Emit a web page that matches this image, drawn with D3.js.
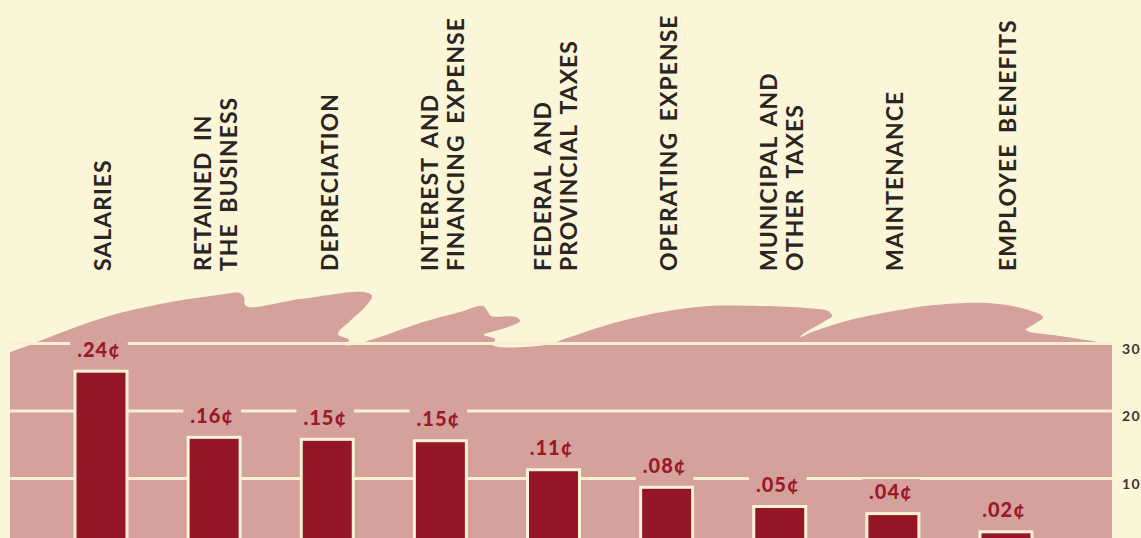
<!DOCTYPE html>
<html>
<head>
<meta charset="utf-8">
<script src="https://cdn.jsdelivr.net/npm/d3@7"></script>
<style>
  body { margin: 0; background: #fbf6d8; }
  svg { display: block; }
</style>
</head>
<body>
<div id="chart"></div>
<script>
var width = 1141;
var height = 538;

// categories, one entry per bar (lines of the rotated label)
var categories = [
  ["SALARIES"],
  ["RETAINED IN", "THE BUSINESS"],
  ["DEPRECIATION"],
  ["INTEREST AND", "FINANCING EXPENSE"],
  ["FEDERAL AND", "PROVINCIAL TAXES"],
  ["OPERATING EXPENSE"],
  ["MUNICIPAL AND", "OTHER TAXES"],
  ["MAINTENANCE"],
  ["EMPLOYEE BENEFITS"]
];
// bar heights
var barHeights = [25.9, 16.1, 15.8, 15.6, 11.3, 8.7, 5.85, 4.8, 2.1];
// printed value over each bar
var centLabels = [".24¢", ".16¢", ".15¢", ".15¢", ".11¢", ".08¢", ".05¢", ".04¢", ".02¢"];
var gridTicks = [10, 20, 30];

var bgColor = "#fbf6d8",
    pink = "#d5a19c",
    barColor = "#951626",
    labelRed = "#9b1a2a",
    inkColor = "#2a2523";

var svg = d3.select("#chart")
            .append("svg")
            .attr("width", width)
            .attr("height", height);

svg.append("rect")
   .attr("width", width)
   .attr("height", height)
   .attr("fill", bgColor);

var x = d3.scalePoint()
          .domain(d3.range(categories.length))
          .range([101, 1006]);

var y = d3.scaleLinear()
          .domain([0, 30])
          .range([546, 343.5]);

var panelLeft = 10, panelRight = 1112;

// torn paper edge on top of the pink panel (decoration only)
var edge = [
  [10,352],[27,346],[60,333],[109,316],[160,304],[218,295],[240,293],[244,297],[246,306],[300,299],[364,292],[372,296],[366,306],[350,321],[338,334],[349,340],[346,345],
  [352,345],[380,337],[420,323],[460,312],[483,306],[488,312],[491,316],[516,317],[520,321],[505,328],[484,335],[495,339],[493,345],
  [545,345],[570,337],[625,320],[697,307],[760,306],[806,308],[828,311],[832,316],[825,321],[806,332],[800,337],
  [815,331],[850,320],[900,310],[934,305],[988,303],[1025,309],[1043,317],[1036,323],[1026,330],[1060,336],[1086,340],[1108,344],[1112,345]
];
var edgeLine = d3.line().curve(d3.curveCatmullRom.alpha(0.5));

svg.append("path")
   .attr("d", edgeLine(edge) + "L" + panelRight + "," + (height + 5) + "L" + panelLeft + "," + (height + 5) + "Z")
   .attr("fill", pink);

// gridlines
svg.selectAll("line.grid")
   .data(gridTicks)
   .enter()
   .append("line")
   .attr("class", "grid")
   .attr("x1", panelLeft)
   .attr("x2", panelRight)
   .attr("y1", function(d){ return y(d); })
   .attr("y2", function(d){ return y(d); })
   .style("stroke", "#f8f0d0")
   .style("stroke-width", 3);

// right hand scale
var axis = svg.append("g")
   .attr("transform", "translate(" + panelRight + ",0)")
   .call(d3.axisRight(y).tickValues(gridTicks).tickSize(0).tickPadding(10));
axis.select(".domain").remove();
axis.selectAll("text")
   .attr("dy", "0.7em")
   .style("font-family", "Lato, 'DejaVu Sans', sans-serif")
   .style("font-weight", "bold")
   .style("font-size", "14px")
   .style("letter-spacing", "1.5px")
   .style("fill", "#3a3330");

// value labels with pink knock-out behind them
var vals = svg.selectAll("g.val")
   .data(barHeights)
   .enter()
   .append("g")
   .attr("class", "val");

var valText = vals.append("text")
   .attr("x", function(d, i){ return x(i) - 2; })
   .attr("y", function(d){ return y(d) - 14.5; })
   .attr("text-anchor", "middle")
   .style("font-family", "Lato, 'DejaVu Sans', sans-serif")
   .style("font-weight", "900")
   .style("font-size", "20px")
   .style("letter-spacing", "1px")
   .style("fill", labelRed)
   .text(function(d, i){ return centLabels[i]; });

valText.each(function(d){
  var b = this.getBBox();
  var base = y(d) - 14.5;
  d3.select(this.parentNode).insert("rect", "text")
    .attr("x", b.x - 7)
    .attr("width", b.width + 14)
    .attr("y", base - 20)
    .attr("height", 28)
    .attr("fill", pink);
});

// bars
svg.selectAll("rect.bar")
   .data(barHeights)
   .enter()
   .append("rect")
   .attr("class", "bar")
   .attr("x", function(d, i){ return x(i) - 26; })
   .attr("width", 52)
   .attr("y", function(d){ return y(d); })
   .attr("height", function(d){ return height + 10 - y(d); })
   .style("fill", barColor)
   .style("stroke", "#fbf3d6")
   .style("stroke-width", 3);

// rotated category names
var lineGap = 26;
var cats = svg.selectAll("text.cat")
   .data(categories)
   .enter()
   .append("text")
   .attr("class", "cat")
   .attr("transform", function(d, i){ return "translate(" + (x(i) + 2) + ",271) rotate(-90)"; })
   .style("font-family", "Lato, 'DejaVu Sans', sans-serif")
   .style("font-weight", "bold")
   .style("font-size", "23px")
   .style("letter-spacing", "1px")
   .style("word-spacing", "4px")
   .style("fill", inkColor);

cats.selectAll("tspan")
   .data(function(d){ return d.map(function(t, k){ return {t: t, k: k, n: d.length}; }); })
   .enter()
   .append("tspan")
   .attr("x", 0)
   .attr("y", function(d){ return (d.k - (d.n - 1) / 2) * lineGap + 8.3; })
   .text(function(d){ return d.t; });
</script>
</body>
</html>
